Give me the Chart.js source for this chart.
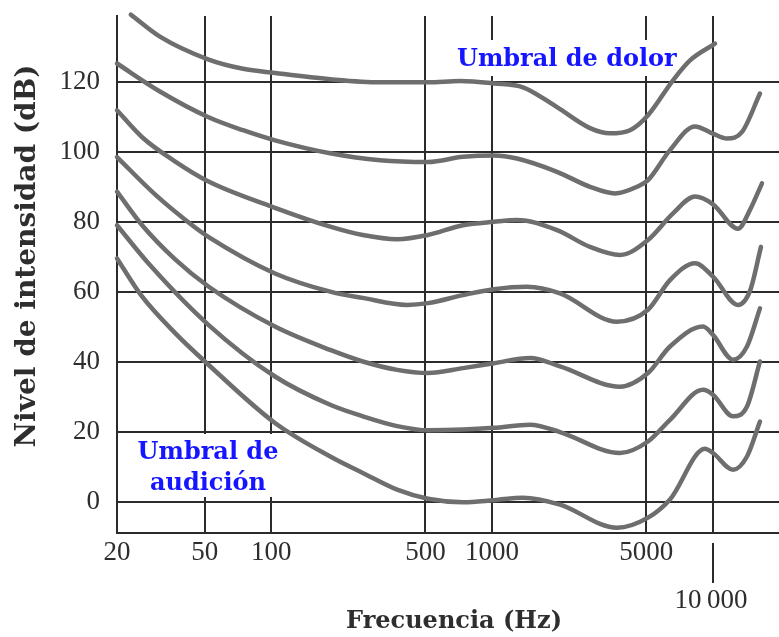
<!DOCTYPE html>
<html>
<head>
<meta charset="utf-8">
<title>Curvas de igual sonoridad</title>
<script src="https://cdn.jsdelivr.net/npm/chart.js@4"></script>
<style>
  html, body { margin: 0; padding: 0; background: #fff; }
  #wrap { width: 779px; height: 637px; }
</style>
</head>
<body>
<div id="wrap"><canvas id="loudness"></canvas></div>
<script>
(function() {

  "use strict";

  // axis ticks
  var freqTicks = [20, 50, 100, 500, 1000, 5000, 10000];
  var levelTicks = [0, 20, 40, 60, 80, 100, 120];

  // curves, one pair of arrays per curve (Hz, dB)
  var freq120 = [23.1, 31.3, 51.7, 74.5, 104, 185, 311, 513, 717, 1022, 1383, 1972, 2784, 3428, 4224, 5098, 6617, 7902, 10256];
  var level120 = [139.4, 133.1, 126.6, 123.9, 122.7, 120.9, 120, 120, 120.4, 119.7, 118.6, 112.9, 106.9, 105.4, 106.3, 110.6, 120.6, 126.3, 131.1];

  var freq100 = [20, 31.3, 51.7, 74.5, 104, 185, 311, 513, 740, 1022, 1299, 1972, 2784, 3612, 4546, 5098, 6412, 8324, 10044, 11626, 13598, 16398];
  var level100 = [125.4, 117.4, 110.1, 106.3, 103.4, 99.7, 97.7, 97.2, 98.7, 99.1, 98.2, 94.4, 90.1, 88.2, 90.1, 92, 100.6, 107.4, 105.3, 103.9, 105.8, 116.8];

  var freq80 = [20, 26, 36.6, 51.7, 104, 185, 260, 372, 513, 740, 1022, 1299, 1972, 2784, 3806, 5098, 6617, 8324, 10044, 13041, 14776, 16746];
  var level80 = [112, 104.3, 97.4, 91.7, 84.1, 78.7, 76.3, 75.1, 76.3, 79.1, 80.1, 80.6, 77.7, 72.9, 70.6, 74.9, 82.5, 87.3, 85.1, 78.1, 83.5, 91.1];

  var freq60 = [20, 30, 42.8, 52.1, 104, 185, 260, 412, 513, 740, 1022, 1442, 2035, 3688, 5098, 6412, 8324, 10044, 13041, 14776, 16570];
  var level60 = [98.6, 87.7, 79.6, 75.7, 65.3, 60.1, 58.3, 56.3, 56.8, 59.1, 60.8, 61.5, 59.6, 51.5, 54.9, 63.4, 68.2, 64.4, 56.3, 60.3, 72.9];

  var freq40 = [20, 26, 36.6, 52.1, 104, 185, 260, 372, 513, 740, 1022, 1488, 2035, 3806, 5098, 6412, 9048, 10044, 12378, 14320, 16398];
  var level40 = [88.7, 79.1, 69.4, 61.5, 50.1, 43.4, 40.1, 37.7, 36.8, 38.2, 39.6, 41.1, 38.7, 32.9, 36.8, 44.4, 50.1, 47.7, 40.6, 44.4, 55.3];

  var freq20 = [20, 28.2, 51.9, 104, 185, 260, 372, 513, 740, 1022, 1488, 2035, 3806, 5098, 6412, 9048, 10044, 12378, 14320, 16398];
  var level20 = [79.1, 67.7, 50.6, 35.8, 27.7, 24.4, 21.6, 20.4, 20.6, 21.1, 22, 19.9, 13.9, 17.2, 23.4, 32, 30.6, 24.4, 27.2, 40.1];

  var freq0 = [20, 25.7, 36.6, 52.1, 104, 185, 260, 372, 513, 740, 1022, 1383, 2035, 3688, 5098, 6412, 9238, 10044, 12378, 14320, 16398];
  var level0 = [69.6, 59.1, 48.3, 39.1, 22.5, 12.9, 8.2, 3.4, 0.8, -0.2, 0.4, 1.1, -0.9, -7.5, -4.6, 0.6, 15.1, 13.9, 9.1, 12.9, 22.9];

  var curves = [
    [freq120, level120], [freq100, level100], [freq80, level80], [freq60, level60],
    [freq40, level40], [freq20, level20], [freq0, level0]
  ];

  var lineColor = "#6e6e6e";
  var gridColor = "#2b2b2b";
  var textColor = "#2e2e2e";
  var noteColor = "#1515ff";
  var tickFont = { family: "'Liberation Serif', serif", size: 27 };
  var titleFont = "bold 24px 'DejaVu Serif', serif";

  var datasets = curves.map(function(c) {
    return {
      data: c[0].map(function(f, i) { return { x: f, y: c[1][i] }; }),
      borderColor: lineColor,
      borderWidth: 4.5,
      borderCapStyle: "round",
      pointRadius: 0,
      fill: false,
      cubicInterpolationMode: "monotone",
      clip: false
    };
  });

  var decorations = {
    id: "decorations",
    beforeDatasetsDraw: function(chart) {
      var ctx = chart.ctx;
      ctx.save();
      // white patches behind the two notes
      ctx.fillStyle = "#ffffff";
      ctx.fillRect(452, 40, 232, 36);
      ctx.fillRect(130, 434, 155, 63);
      ctx.fillStyle = noteColor;
      ctx.font = titleFont;
      ctx.textBaseline = "alphabetic";
      ctx.textAlign = "left";
      ctx.fillText("Umbral de dolor", 457, 66);
      ctx.textAlign = "center";
      ctx.fillText("Umbral de", 208, 459);
      ctx.fillText("audición", 208, 490);
      ctx.restore();
    },
    afterDraw: function(chart) {
      var ctx = chart.ctx;
      var area = chart.chartArea;
      var px = Math.round(chart.scales.x.getPixelForValue(10000));
      ctx.save();
      // long tick under 10 000
      ctx.strokeStyle = gridColor;
      ctx.lineWidth = 2;
      ctx.beginPath();
      ctx.moveTo(px, area.bottom + 10);
      ctx.lineTo(px, area.bottom + 50);
      ctx.stroke();
      ctx.fillStyle = textColor;
      ctx.textAlign = "center";
      ctx.textBaseline = "middle";
      ctx.font = "27px 'Liberation Serif', serif";
      ctx.fillText("10\u2009000", px - 2, area.bottom + 68);
      // axis titles
      ctx.font = titleFont;
      ctx.fillText("Frecuencia (Hz)", (area.left + area.right) / 2 + 6, area.bottom + 89);
      ctx.font = "bold 28px 'DejaVu Serif', serif";
      ctx.translate(28, 256);
      ctx.rotate(-Math.PI / 2);
      ctx.fillText("Nivel de intensidad (dB)", 0, 0);
      ctx.restore();
    }
  };

  function noPadding(scale) {
    scale.paddingTop = 0;
    scale.paddingBottom = 0;
    scale.paddingLeft = 0;
    scale.paddingRight = 0;
  }

  new Chart(document.getElementById("loudness"), {
    type: "line",
    data: { datasets: datasets },
    options: {
      responsive: true,
      maintainAspectRatio: false,
      animation: false,
      layout: { padding: { top: 16, right: 0, bottom: 0, left: 0 } },
      plugins: {
        legend: { display: false },
        tooltip: { enabled: false }
      },
      scales: {
        x: {
          type: "logarithmic",
          min: 20,
          max: 20000,
          afterBuildTicks: function(scale) {
            scale.ticks = freqTicks.map(function(v) { return { value: v }; });
          },
          afterFit: function(scale) { scale.height = 104; noPadding(scale); },
          grid: { color: gridColor, lineWidth: 2, drawTicks: false },
          border: { color: gridColor, width: 2 },
          ticks: {
            color: textColor,
            font: tickFont,
            padding: 4,
            maxRotation: 0,
            autoSkip: false,
            callback: function(v) { return v === 10000 ? "" : String(v); }
          }
        },
        y: {
          min: -9,
          max: 139,
          afterBuildTicks: function(scale) {
            scale.ticks = levelTicks.map(function(v) { return { value: v }; });
          },
          afterFit: function(scale) { scale.width = 117; noPadding(scale); },
          grid: { color: gridColor, lineWidth: 2, drawTicks: false },
          border: { color: gridColor, width: 2 },
          ticks: { color: textColor, font: tickFont, padding: 17 }
        }
      }
    },
    plugins: [decorations]
  });

})();
</script>
</body>
</html>
